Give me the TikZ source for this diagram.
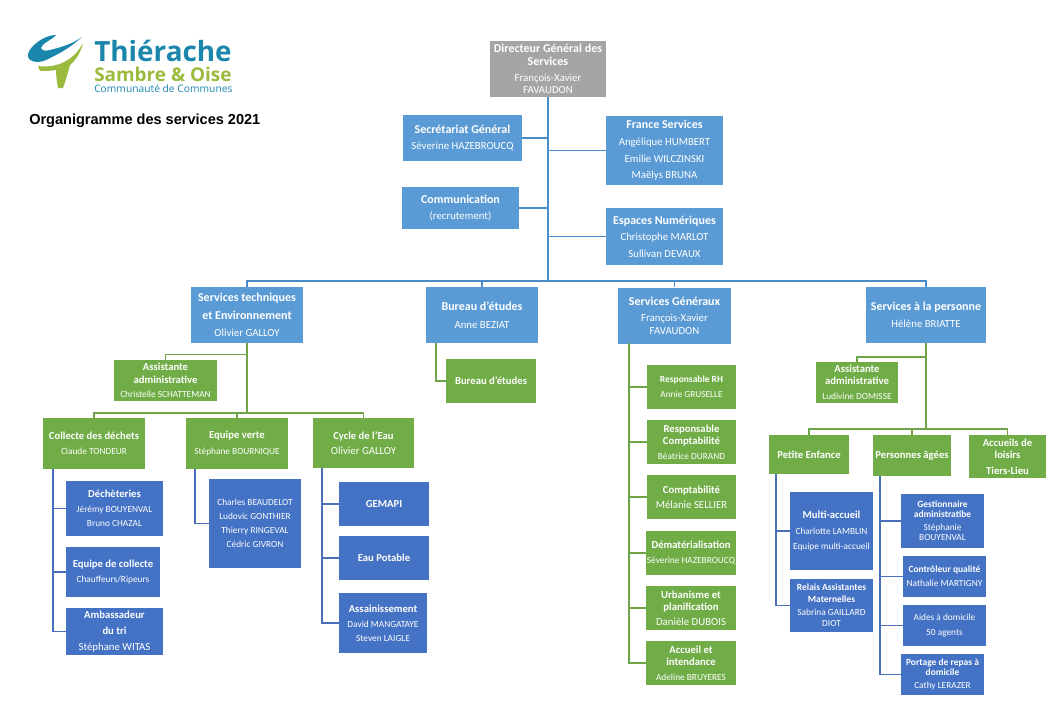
\documentclass[tikz,border=0pt]{standalone}
\usepackage{fontspec}
\usetikzlibrary{calc}
\setmainfont{Carlito}
\newfontfamily\titlefont{Liberation Sans}
\newfontfamily\logofont{Open Sans}
\newcommand{\hd}[1]{{\bfseries\fontsize{9}{10}\selectfont #1}}
\newcommand{\sm}[1]{{\bfseries\fontsize{8}{9}\selectfont #1}}
\newcommand{\st}[1]{{\bfseries\fontsize{7.1}{9}\selectfont #1}}
\newcommand{\nm}[1]{{\fontsize{8.1}{10}\selectfont #1}}
\newcommand{\ns}[1]{{\fontsize{7}{9}\selectfont #1}}
\definecolor{lightblue}{HTML}{5B9BD5}
\definecolor{darkblue}{HTML}{4472C4}
\definecolor{leaf}{HTML}{70AD47}
\definecolor{chief}{HTML}{A5A5A5}
\definecolor{trunk}{HTML}{4A8CC8}
\definecolor{rail}{HTML}{4A70BA}
\definecolor{twig}{HTML}{6FA548}
\definecolor{logoblue}{HTML}{1A86AC}
\definecolor{logogreen}{HTML}{9BBB3E}
\begin{document}
\begin{tikzpicture}[x=.75pt,y=-.75pt]
  \tikzstyle{BOX} = [rectangle, text=white, align=center, inner sep=0pt, font=\fontsize{7}{9.5}\selectfont]
  \tikzstyle{GREY} = [BOX, fill=chief]
  \tikzstyle{SERV} = [BOX, fill=lightblue]
  \tikzstyle{UNIT} = [BOX, fill=leaf]
  \tikzstyle{TEAM} = [BOX, fill=darkblue]
  \tikzstyle{LNK1} = [draw=trunk, line width=.8pt]
  \tikzstyle{LNK2} = [draw=twig, line width=.8pt]
  \tikzstyle{LNK3} = [draw=rail, line width=.8pt]
  \tikzset{wh/.style 2 args={minimum width=#1*.75pt, minimum height=#2*.75pt}}

  \useasboundingbox (0,0) rectangle (1063,707);

  %%%%% LOGO AND TITLE
  \fill[logoblue] (82,37) .. controls (74,44) and (66,50) .. (56,55) .. controls (50,58) and (44,62) .. (38,62)
     .. controls (31,62) and (27,59) .. (28,54) .. controls (30,46) and (44,35) .. (56,35)
     .. controls (52,40) and (42,43) .. (41,48) .. controls (42,51) and (46,51) .. (50,50)
     .. controls (62,47) and (72,44) .. (82,37) -- cycle;
  \fill[logogreen] (83,43) .. controls (81,52) and (76,60) .. (70,65) .. controls (68,72) and (66,80) .. (63,88)
     -- (58,88) .. controls (57,82) and (56,76) .. (56,70) .. controls (50,71) and (44,71) .. (40,71)
     -- (38,66) .. controls (52,68) and (72,64) .. (83,43) -- cycle;
  \node[anchor=west, inner sep=0pt, text=logoblue, font=\logofont\bfseries\fontsize{20.9}{22}\selectfont](logotop) at (94,51) {Thiérache};
  \node[anchor=west, inner sep=0pt, text=logogreen, font=\logofont\bfseries\fontsize{14.2}{16}\selectfont](logomid) at (94,74) {Sambre \& Oise};
  \node[anchor=west, inner sep=0pt, text=logoblue, font=\logofont\fontsize{7.7}{9}\selectfont](logolow) at (94,89) {Communauté de Communes};
  \node[anchor=west, inner sep=0pt, font=\titlefont\bfseries\fontsize{10.9}{12}\selectfont](title) at (29,120.5) {Organigramme des services 2021};

  %%%%% DIRECTION
  \node[GREY, wh={116}{56}](dgs) at (548, 69) {\hd{Directeur Général des}\\\hd{Services}\\[2.5pt]\nm{François-Xavier}\\\nm{FAVAUDON}};
  \node[SERV, wh={119}{46}](sec) at (462.5, 138) {\hd{Secrétariat Général}\\[3pt]\nm{Séverine HAZEBROUCQ}};
  \node[SERV, wh={117}{69}](fra) at (664.5, 150.5) {\hd{France Services}\\[3pt]\nm{Angélique HUMBERT}\\[3pt]\nm{Emilie WILCZINSKI}\\[3pt]\nm{Maëlys BRUNA}};
  \node[SERV, wh={117}{42}](com) at (460.5, 208) {\hd{Communication}\\[3pt]\nm{(recrutement)}};
  \node[SERV, wh={117}{57}](esp) at (664.5, 236.5) {\hd{Espaces Numériques}\\[3pt]\nm{Christophe MARLOT}\\[3pt]\nm{Sullivan DEVAUX}};

  %%%%% SERVICES
  \node[SERV, wh={112}{56}](tech) at (247, 315) {\hd{Services techniques}\\[3.5pt]\hd{et Environnement}\\[3.5pt]\nm{Olivier GALLOY}};
  \node[SERV, wh={112}{56}](bur) at (482, 315) {\hd{Bureau d'études}\\[3.5pt]\nm{Anne BEZIAT}};
  \node[SERV, wh={113}{56}](gen) at (674.5, 315.5) {\hd{Services Généraux}\\[3pt]\nm{François-Xavier}\\\nm{FAVAUDON}};
  \node[SERV, wh={120}{56}](per) at (926, 315) {\hd{Services à la personne}\\[3.5pt]\nm{Hélène BRIATTE}};

  %%%%% TECHNIQUES
  \node[UNIT, wh={103}{41}](ast) at (165.5, 380.5) {\sm{Assistante}\\\sm{administrative}\\[1.5pt]\ns{Christelle SCHATTEMAN}};
  \node[UNIT, wh={102}{51}](col) at (94, 443.5) {\sm{Collecte des déchets}\\[2pt]\ns{Claude TONDEUR}};
  \node[UNIT, wh={102}{51}](ver) at (237, 443.5) {\sm{Equipe verte}\\[2pt]\ns{Stéphane BOURNIQUE}};
  \node[UNIT, wh={101}{50}](eau) at (363.5, 443) {\sm{Cycle de l'Eau}\\[2pt]\nm{Olivier GALLOY}};
  \node[TEAM, wh={97}{55}](dec) at (114.5, 508.5) {\sm{Déchèteries}\\[2pt]\ns{Jérémy BOUYENVAL}\\[1pt]\ns{Bruno CHAZAL}};
  \node[TEAM, wh={94}{50}](eqc) at (113, 572) {\sm{Equipe de collecte}\\[2pt]\ns{Chauffeurs/Ripeurs}};
  \node[TEAM, wh={97}{47}](amb) at (114.5, 631.5) {\sm{Ambassadeur}\\[2.5pt]\sm{du tri}\\[2.5pt]\nm{Stéphane WITAS}};
  \node[TEAM, wh={92}{89}](agt) at (255, 523.5) {\ns{Charles BEAUDELOT}\\[1pt]\ns{Ludovic GONTHIER}\\[1pt]\ns{Thierry RINGEVAL}\\[1pt]\ns{Cédric GIVRON}};
  \node[TEAM, wh={90}{44}](gem) at (384, 504) {\sm{GEMAPI}};
  \node[TEAM, wh={90}{44}](pot) at (384, 558) {\sm{Eau Potable}};
  \node[TEAM, wh={88}{60}](ass) at (383, 623) {\sm{Assainissement}\\[2pt]\ns{David MANGATAYE}\\[1pt]\ns{Steven LAIGLE}};

  %%%%% BUREAU
  \node[UNIT, wh={90}{44}](etu) at (491, 381) {\sm{Bureau d'études}};

  %%%%% GENERAUX
  \node[UNIT, wh={89}{44}](rh) at (691.5, 387) {\st{Responsable RH}\\[2pt]\ns{Annie GRUSELLE}};
  \node[UNIT, wh={89}{44}](rco) at (691.5, 442) {\sm{Responsable}\\[-.5pt]\sm{Comptabilité}\\[1.5pt]\ns{Béatrice DURAND}};
  \node[UNIT, wh={89}{44}](cpt) at (691.5, 497) {\sm{Comptabilité}\\[2pt]\nm{Mélanie SELLIER}};
  \node[UNIT, wh={90}{44}](dem) at (691, 553) {\sm{Dématérialisation}\\[2pt]\ns{Séverine HAZEBROUCQ}};
  \node[UNIT, wh={90}{44}](urb) at (691, 608) {\sm{Urbanisme et}\\[-.5pt]\sm{planification}\\[2pt]\nm{Danièle DUBOIS}};
  \node[UNIT, wh={90}{44}](acc) at (691, 663) {\sm{Accueil et}\\[-.5pt]\sm{intendance}\\[2pt]\ns{Adeline BRUYERES}};

  %%%%% PERSONNE
  \node[UNIT, wh={82}{41}](asp) at (857, 382.5) {\sm{Assistante}\\[-.5pt]\sm{administrative}\\[1.5pt]\ns{Ludivine DOMISSE}};
  \node[UNIT, wh={80}{39}](pet) at (809, 454.5) {\sm{Petite Enfance}};
  \node[UNIT, wh={78}{41}](age) at (912, 455.5) {\sm{Personnes âgées}};
  \node[UNIT, wh={77}{43}](loi) at (1007.5, 456.5) {\sm{Accueils de}\\\sm{loisirs}\\[2pt]\sm{Tiers-Lieu}};
  \node[TEAM, wh={83}{78}](mul) at (831.5, 531) {\sm{Multi-accueil}\\[2pt]\ns{Charlotte LAMBLIN}\\[2pt]\ns{Equipe multi-accueil}};
  \node[TEAM, wh={83}{53}](rel) at (831.5, 605.5) {\st{Relais Assistantes}\\[-1pt]\st{Maternelles}\\[.5pt]\ns{Sabrina GAILLARD}\\[-1pt]\ns{DIOT}};
  \node[TEAM, wh={83}{54}](ges) at (942.5, 521) {\st{Gestionnaire}\\[-2pt]\st{administratibe}\\[.5pt]\ns{Stéphanie}\\[-2pt]\ns{BOUYENVAL}};
  \node[TEAM, wh={83}{41}](ctr) at (944.5, 576.5) {\st{Contrôleur qualité}\\[1pt]\ns{Nathalie MARTIGNY}};
  \node[TEAM, wh={83}{41}](aid) at (944.5, 625.5) {\ns{Aides à domicile}\\[2pt]\ns{50 agents}};
  \node[TEAM, wh={83}{41}](por) at (942.5, 674.5) {\st{Portage de repas à}\\[-2pt]\st{domicile}\\[.5pt]\ns{Cathy LERAZER}};

  %%%%% JUNCTIONS
  \coordinate(hub) at (548, 281);
  \coordinate(jtech) at (247, 413);
  \coordinate(jper) at (926, 429);
  \coordinate(rcol) at (53, 469);
  \coordinate(rver) at (195, 469);
  \coordinate(reau) at (322, 468);
  \coordinate(rbur) at (436, 343);
  \coordinate(rgen) at (629, 343);
  \coordinate(rpet) at (776, 474);
  \coordinate(rage) at (880, 476);

  %%%%% EDGES
  \draw[LNK1, line width=1.5pt] (dgs.south) -- (hub);
  \draw[LNK1] (sec.east) -- (sec.east -| hub);
  \draw[LNK1] (fra.west) -- (fra.west -| hub);
  \draw[LNK1] (com.east) -- (com.east -| hub);
  \draw[LNK1] (esp.west) -- (esp.west -| hub);
  \draw[LNK1, line width=1.1pt] (tech.north) |- (hub);
  \draw[LNK1, line width=1.1pt] (per.north) |- (hub);
  \draw[LNK1] (bur.north) -- (bur.north |- hub);
  \draw[LNK1] (gen.north) -- (gen.north |- hub);

  \draw[LNK2, line width=1.2pt] (tech.south) -- (jtech);
  \draw[LNK2, line width=1pt] (ast.north) |- ($(tech.south)!.16!(jtech)$);
  \draw[LNK2, line width=1pt] (col.north) |- (jtech);
  \draw[LNK2, line width=1pt] (eau.north) |- (jtech);
  \draw[LNK2] (ver.north) -- (ver.north |- jtech);

  \draw[LNK3] (rcol) |- (amb.west);
  \draw[LNK3] (dec.west) -- (dec.west -| rcol);
  \draw[LNK3] (eqc.west) -- (eqc.west -| rcol);
  \draw[LNK3] (rver) |- (agt.west);
  \draw[LNK3] (reau) |- (ass.west);
  \draw[LNK3] (gem.west) -- (gem.west -| reau);
  \draw[LNK3] (pot.west) -- (pot.west -| reau);

  \draw[LNK2] (rbur) |- (etu.west);

  \draw[LNK2] (rgen) |- (acc.west);
  \draw[LNK2] (rh.west) -- (rh.west -| rgen);
  \draw[LNK2] (rco.west) -- (rco.west -| rgen);
  \draw[LNK2] (cpt.west) -- (cpt.west -| rgen);
  \draw[LNK2] (dem.west) -- (dem.west -| rgen);
  \draw[LNK2] (urb.west) -- (urb.west -| rgen);

  \draw[LNK2, line width=1.2pt] (per.south) -- (jper);
  \draw[LNK2, line width=1pt] (asp.north) |- ($(per.south)!.16!(jper)$);
  \draw[LNK2, line width=1pt] (pet.north) |- (jper);
  \draw[LNK2, line width=1pt] (loi.north) |- (jper);
  \draw[LNK2] (age.north) -- (age.north |- jper);

  \draw[LNK3] (rpet) |- (rel.west);
  \draw[LNK3] (mul.west) -- (mul.west -| rpet);
  \draw[LNK3] (rage) |- (por.west);
  \draw[LNK3] (ges.west) -- (ges.west -| rage);
  \draw[LNK3] (ctr.west) -- (ctr.west -| rage);
  \draw[LNK3] (aid.west) -- (aid.west -| rage);
\end{tikzpicture}
\end{document}
